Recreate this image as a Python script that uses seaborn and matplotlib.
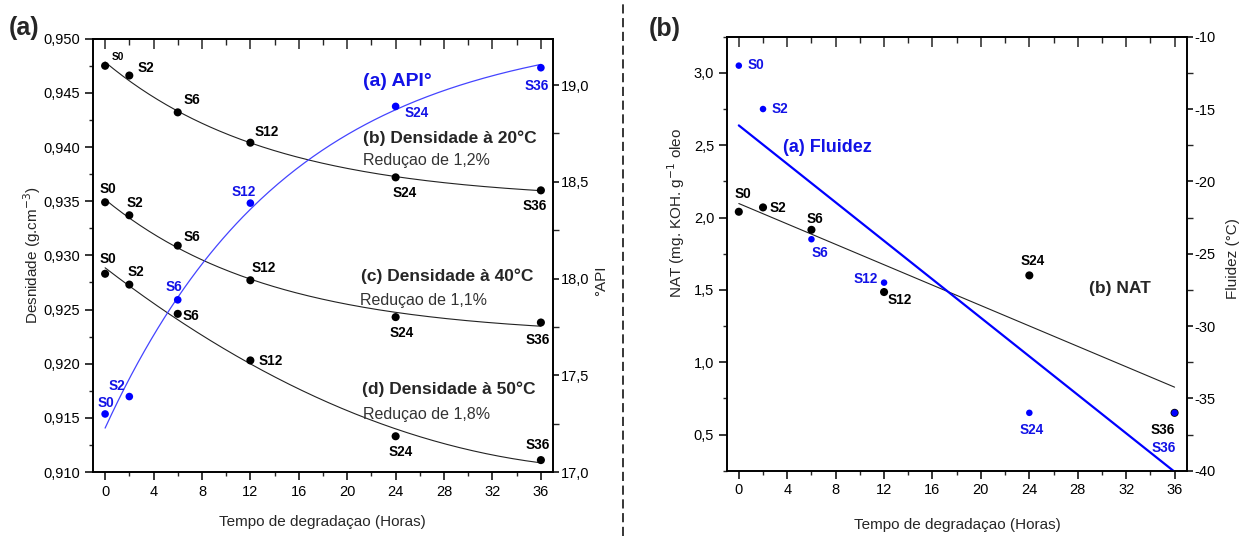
import numpy as np
import pandas as pd
import matplotlib
matplotlib.use("Agg")
import matplotlib.pyplot as plt
import seaborn as sns
from matplotlib.ticker import MultipleLocator, FuncFormatter
from matplotlib import font_manager
from matplotlib.lines import Line2D

# ---------------- data ----------------
hours = [0, 2, 6, 12, 24, 36]
samples = ["S0", "S2", "S6", "S12", "S24", "S36"]
dens20 = [0.9475, 0.9466, 0.9432, 0.9404, 0.9372, 0.9360]
dens40 = [0.9349, 0.9337, 0.9309, 0.9277, 0.9243, 0.9238]
dens50 = [0.9283, 0.9273, 0.9246, 0.9203, 0.9133, 0.9111]
api = [17.30, 17.39, 17.89, 18.39, 18.89, 19.09]
nat = [2.04, 2.07, 1.915, 1.485, 1.60, 0.65]
fluidez = [-12, -15, -24, -27, -36, -36]

# ---------------- style ----------------
sns.set_style("ticks")
plt.rcParams["font.family"] = ["Liberation Sans", "DejaVu Sans"]

def has_font(name):
    try:
        font_manager.findfont(font_manager.FontProperties(family=name), fallback_to_default=False)
        return True
    except Exception:
        return False

NARROW = ["Liberation Sans Narrow", "Liberation Sans", "DejaVu Sans"] if has_font("Liberation Sans Narrow") else ["Liberation Sans", "DejaVu Sans"]
LBL_SIZE = 11 if NARROW[0] == "Liberation Sans Narrow" else 9.8

W, H = 1242, 536
fig = plt.figure(figsize=(W / 100, H / 100), dpi=100)

BLUE = "#0000ff"
TXTBLUE = "#1212e6"

def px(x, y):
    return x / W, 1 - y / H

def exp_fit(x, y, n=400):
    x = np.asarray(x, float); y = np.asarray(y, float)
    best = None
    for t in np.linspace(1, 300, n):
        M = np.column_stack([np.ones_like(x), np.exp(-x / t)])
        c, *_ = np.linalg.lstsq(M, y, rcond=None)
        r = np.sum((M @ c - y) ** 2)
        if best is None or r < best[0]:
            best = (r, t, c)
    _, t, c = best
    xs = np.linspace(0, 36, 200)
    return xs, c[0] + c[1] * np.exp(-xs / t)

def quad_fit(x, y):
    c = np.polyfit(x, y, 2)
    xs = np.linspace(0, 36, 200)
    return xs, np.polyval(c, xs)

def style_axis(ax, right=False):
    for s in ax.spines.values():
        s.set_linewidth(1.2)
        s.set_color("black")
    ax.tick_params(which="major", length=6, width=1.1, direction="out", labelsize=10.5, colors="black", pad=3)
    ax.tick_params(which="minor", length=3, width=1.0, direction="out")
    if right:
        ax.tick_params(axis="y", which="major", length=4, pad=1.5)
        ax.tick_params(axis="y", which="minor", length=4)

def label(ax, x, y, txt, dx, dy, color="black"):
    ax.annotate(txt, (x, y), xytext=(dx, -dy), textcoords="offset pixels",
                ha="center", va="center", fontsize=LBL_SIZE, fontweight="bold",
                color=color, family=NARROW)

comma1 = FuncFormatter(lambda v, p: f"{v:.1f}".replace(".", ","))
comma3 = FuncFormatter(lambda v, p: f"{v:.3f}".replace(".", ","))

# ================= panel (a) =================
l, b = px(93, 472)
ax1 = fig.add_axes([l, b, (553 - 93) / W, (472 - 38.7) / H])
ax1r = ax1.twinx()
ax1.set_xlim(-1, 37)
ax1.set_ylim(0.910, 0.950)
ax1r.set_ylim(17.0, 19.24)

for dens, fit in ((dens20, exp_fit), (dens40, exp_fit), (dens50, quad_fit)):
    xs, ys = fit(hours, dens)
    sns.lineplot(x=xs, y=ys, ax=ax1, color="#222222", linewidth=0.8, estimator=None, sort=False)
    sns.scatterplot(x=hours, y=dens, ax=ax1, color="black", s=34, edgecolor="none", zorder=5)

xs, ys = exp_fit(hours, api)
sns.lineplot(x=xs, y=ys, ax=ax1r, color="#4444ff", linewidth=0.9, estimator=None, sort=False)
sns.scatterplot(x=hours, y=api, ax=ax1r, color=BLUE, s=30, edgecolor="none", zorder=5)

off20 = [(13, -9), (17, -8), (14.5, -12), (16, -11), (9, 15.5), (-6, 15.5)]
off40 = [(3, -13), (5.5, -12), (14, -8.5), (13.5, -12), (6, 16), (-3.5, 17)]
off50 = [(3, -15), (6.5, -13), (13, 2), (20, 1), (5, 16), (-3.5, -15.5)]
offapi = [(0.5, -11), (-12, -11), (-3.5, -13), (-7, -11), (21.5, 7), (-4, 18)]
for i, s_ in enumerate(samples):
    label(ax1, hours[i], dens20[i], s_, *off20[i])
    label(ax1, hours[i], dens40[i], s_, *off40[i])
    label(ax1, hours[i], dens50[i], s_, *off50[i])
    label(ax1r, hours[i], api[i], s_, *offapi[i], color=TXTBLUE)
# small S0 on top curve
ax1.texts[0].set_fontsize(LBL_SIZE - 2.5)

ax1.xaxis.set_major_locator(MultipleLocator(4))
ax1.xaxis.set_minor_locator(MultipleLocator(2))
ax1.yaxis.set_major_locator(MultipleLocator(0.005))
ax1.yaxis.set_minor_locator(MultipleLocator(0.0025))
ax1.yaxis.set_major_formatter(comma3)
ax1r.yaxis.set_major_locator(MultipleLocator(0.5))
ax1r.yaxis.set_minor_locator(MultipleLocator(0.25))
ax1r.yaxis.set_major_formatter(comma1)
style_axis(ax1)
style_axis(ax1r, right=True)
for a in (ax1, ax1r):
    a.set_xlabel(""); a.set_ylabel("")
top1 = ax1.secondary_xaxis("top")
top1.xaxis.set_major_locator(MultipleLocator(4))
top1.xaxis.set_minor_locator(MultipleLocator(2))
top1.tick_params(which="major", direction="in", length=7, width=1.1, labeltop=False)
top1.tick_params(which="minor", direction="in", length=4, width=1.0)
top1.spines["top"].set_linewidth(1.2)

# ================= panel (b) =================
l, b = px(726.7, 470.7)
ax2 = fig.add_axes([l, b, (1186.7 - 726.7) / W, (470.7 - 36.7) / H])
ax2r = ax2.twinx()
ax2.set_xlim(-1, 37)
ax2.set_ylim(0.25, 3.25)
ax2r.set_ylim(-40, -10)

xs = np.linspace(0, 36, 100)
cn = np.polyfit(hours, nat, 1)
cf = np.polyfit(hours, fluidez, 1)
sns.lineplot(x=xs, y=np.polyval(cn, xs), ax=ax2, color="#222222", linewidth=0.8, estimator=None)
sns.scatterplot(x=hours, y=nat, ax=ax2, color="black", s=34, edgecolor="none", zorder=5)
sns.lineplot(x=xs, y=np.polyval(cf, xs), ax=ax2r, color=BLUE, linewidth=1.6, estimator=None)
sns.scatterplot(x=hours, y=fluidez, ax=ax2r, color=BLUE, s=22, edgecolor="none", zorder=5)

offnat = [(4, -17.7), (14.5, 0.7), (4, -11), (15.5, 8), (3.5, -14.5), (-12, 17.5)]
offflu = [(17.5, -0.7), (16.5, 0), (9, 13.5), (-18.5, -3.7), (2, 16.7), (-11, 34.7)]
for i, s_ in enumerate(samples):
    label(ax2, hours[i], nat[i], s_, *offnat[i])
    label(ax2r, hours[i], fluidez[i], s_, *offflu[i], color=TXTBLUE)

ax2.xaxis.set_major_locator(MultipleLocator(4))
ax2.xaxis.set_minor_locator(MultipleLocator(2))
ax2.yaxis.set_major_locator(MultipleLocator(0.5))
ax2.yaxis.set_minor_locator(MultipleLocator(0.25))
ax2.yaxis.set_major_formatter(comma1)
ax2r.yaxis.set_major_locator(MultipleLocator(5))
ax2r.yaxis.set_minor_locator(MultipleLocator(2.5))
ax2r.yaxis.set_major_formatter(FuncFormatter(lambda v, p: f"{int(round(v))}"))
style_axis(ax2)
style_axis(ax2r, right=True)
for a in (ax2, ax2r):
    a.set_xlabel(""); a.set_ylabel("")
top2 = ax2.secondary_xaxis("top")
top2.xaxis.set_major_locator(MultipleLocator(4))
top2.xaxis.set_minor_locator(MultipleLocator(2))
top2.tick_params(which="major", direction="in", length=7, width=1.1, labeltop=False)
top2.tick_params(which="minor", direction="in", length=4, width=1.0)
top2.spines["top"].set_linewidth(1.2)

# ================= texts =================
def ftext(x, y, s, **kw):
    fig.text(*px(x, y), s, **kw)

ftext(24, 28, "(a)", fontsize=18, fontweight="bold", ha="center", va="center")
ftext(664.5, 29, "(b)", fontsize=18, fontweight="bold", ha="center", va="center")

ftext(397, 82, "(a) API°", fontsize=14, fontweight="bold", color=TXTBLUE, ha="center", va="center")
ftext(363, 138.5, "(b) Densidade à 20°C", fontsize=12.5, fontweight="bold", ha="left", va="center")
ftext(363, 160, "Reduçao de 1,2%", fontsize=11.5, color="#333333", ha="left", va="center")
ftext(361, 276, "(c) Densidade à 40°C", fontsize=12.5, fontweight="bold", ha="left", va="center")
ftext(360, 300, "Reduçao de 1,1%", fontsize=11.5, color="#333333", ha="left", va="center")
ftext(362, 389.5, "(d) Densidade à 50°C", fontsize=12.5, fontweight="bold", ha="left", va="center")
ftext(363, 415, "Reduçao de 1,8%", fontsize=11.5, color="#333333", ha="left", va="center")

ftext(783, 147.5, "(a) Fluidez", fontsize=13, fontweight="bold", color=TXTBLUE, ha="left", va="center")
ftext(1089, 288, "(b) NAT", fontsize=12.5, fontweight="bold", ha="left", va="center")

ftext(322.5, 522, "Tempo de degradaçao (Horas)", fontsize=11, ha="center", va="center")
ftext(957.5, 525, "Tempo de degradaçao (Horas)", fontsize=11, ha="center", va="center")
ftext(32, 255, "Desnidade (g.cm$^{-3}$)", fontsize=11, rotation=90, ha="center", va="center")
ftext(601, 281, "°API", fontsize=11, rotation=90, ha="center", va="center")
ftext(676, 213, "NAT (mg. KOH. g$^{-1}$ oleo", fontsize=11, rotation=90, ha="center", va="center")
ftext(1233, 259, "Fluidez (°C)", fontsize=11, rotation=90, ha="center", va="center")

fig.add_artist(Line2D([623 / W, 623 / W], [0, 1], transform=fig.transFigure,
                      color="black", linewidth=1.1, linestyle=(0, (6, 3))))

fig.savefig("out.png", dpi=100)
